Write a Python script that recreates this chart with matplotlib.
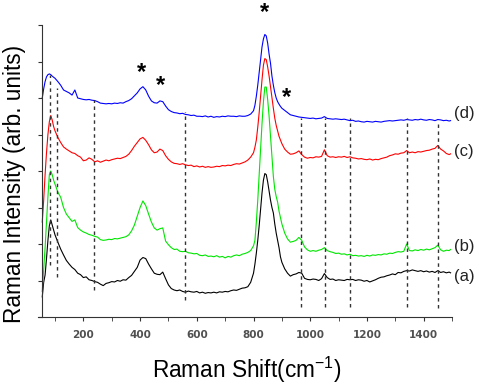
import numpy as np
import matplotlib
matplotlib.use("Agg")
import matplotlib.pyplot as plt

plt.rcParams['font.family'] = ['Liberation Sans', 'DejaVu Sans']
plt.rcParams['mathtext.default'] = 'regular'

# Raman shift sampling (cm-1): dense near the laser edge and the 840 band
shift = np.concatenate([np.arange(55, 101, 5), np.arange(110, 801, 10),
                        np.arange(805, 901, 5), np.arange(910, 1491, 10), [1495]])

# (a) black
spec_a = [0.55, 0.95, 1.15, 1.60, 2.10, 2.50, 2.66, 2.52, 2.38, 2.25,
          2.05, 1.86, 1.70, 1.55, 1.45, 1.36, 1.30, 1.20, 1.16, 1.08,
          1.10, 1.02, 1.00, 0.97, 0.95, 0.90, 0.86, 0.92, 0.94, 0.97,
          0.96, 1.00, 0.98, 1.02, 1.01, 1.08, 1.14, 1.25, 1.36, 1.56,
          1.63, 1.60, 1.45, 1.32, 1.20, 1.17, 1.16, 1.23, 1.05, 0.88,
          0.78, 0.74, 0.72, 0.74, 0.70, 0.68, 0.71, 0.69, 0.68, 0.70,
          0.66, 0.68, 0.65, 0.67, 0.66, 0.68, 0.66, 0.69, 0.68, 0.70,
          0.69, 0.72, 0.74, 0.73, 0.76, 0.79, 0.80, 0.83, 0.95, 1.20,
          1.45, 1.75, 2.10, 2.50, 2.95, 3.40, 3.75, 3.93, 3.90, 3.70,
          3.45, 3.20, 3.00, 2.85, 2.55, 2.30, 2.10, 1.90, 1.65, 1.50,
          1.32, 1.20, 1.12, 1.16, 1.18, 1.22, 1.20, 1.06, 1.03, 1.02,
          1.04, 1.03, 1.00, 1.05, 1.19, 1.08, 1.03, 1.04, 1.00, 1.02,
          1.01, 1.00, 1.03, 1.02, 1.03, 1.00, 1.02, 1.01, 0.98, 1.00,
          0.96, 0.99, 1.02, 1.06, 1.09, 1.10, 1.13, 1.15, 1.18, 1.16,
          1.22, 1.21, 1.25, 1.27, 1.26, 1.29, 1.27, 1.25, 1.27, 1.24,
          1.26, 1.23, 1.25, 1.22, 1.27, 1.22, 1.24, 1.21, 1.23, 1.21]

# (b) green
spec_b = [0.70, 1.30, 1.90, 2.60, 3.30, 3.90, 4.00, 3.90, 3.75, 3.64,
          3.42, 3.28, 3.00, 2.82, 2.72, 2.62, 2.66, 2.45, 2.38, 2.33,
          2.30, 2.26, 2.24, 2.21, 2.19, 2.12, 2.10, 2.11, 2.13, 2.12,
          2.15, 2.14, 2.16, 2.18, 2.20, 2.25, 2.36, 2.52, 2.76, 3.00,
          3.18, 3.05, 2.82, 2.60, 2.44, 2.38, 2.42, 2.44, 2.08, 1.98,
          1.90, 1.85, 1.86, 1.80, 1.79, 1.80, 1.76, 1.75, 1.73, 1.74,
          1.69, 1.68, 1.70, 1.66, 1.67, 1.65, 1.68, 1.64, 1.66, 1.62,
          1.66, 1.64, 1.68, 1.70, 1.68, 1.72, 1.74, 1.77, 1.82, 1.95,
          2.10, 2.60, 3.20, 3.90, 4.60, 5.30, 5.90, 6.30, 6.30, 5.95,
          5.50, 4.95, 4.40, 3.85, 3.50, 3.30, 3.15, 2.90, 2.72, 2.55,
          2.30, 2.14, 2.05, 2.07, 2.10, 2.18, 2.10, 1.92, 1.84, 1.80,
          1.82, 1.80, 1.83, 1.85, 1.90, 1.82, 1.79, 1.77, 1.74, 1.75,
          1.72, 1.73, 1.70, 1.72, 1.68, 1.69, 1.67, 1.68, 1.66, 1.69,
          1.67, 1.70, 1.69, 1.71, 1.70, 1.73, 1.72, 1.75, 1.74, 1.77,
          1.79, 1.78, 1.80, 2.00, 1.82, 1.81, 1.84, 1.82, 1.85, 1.83,
          1.86, 1.84, 1.87, 1.90, 1.97, 1.84, 1.80, 1.83, 1.82, 1.85]

# (c) red
spec_c = [2.60, 3.20, 3.90, 4.50, 5.00, 5.35, 5.52, 5.40, 5.22, 5.10,
          4.92, 4.78, 4.66, 4.60, 4.55, 4.50, 4.48, 4.42, 4.38, 4.28,
          4.30, 4.36, 4.32, 4.25, 4.28, 4.24, 4.27, 4.30, 4.28, 4.31,
          4.33, 4.35, 4.34, 4.37, 4.40, 4.46, 4.56, 4.68, 4.78, 4.88,
          4.92, 4.84, 4.72, 4.58, 4.50, 4.52, 4.60, 4.56, 4.42, 4.32,
          4.25, 4.21, 4.20, 4.18, 4.20, 4.17, 4.15, 4.16, 4.12, 4.14,
          4.11, 4.13, 4.10, 4.12, 4.10, 4.11, 4.13, 4.12, 4.15, 4.14,
          4.16, 4.15, 4.18, 4.20, 4.19, 4.22, 4.25, 4.30, 4.38, 4.50,
          4.65, 4.85, 5.20, 5.60, 6.05, 6.50, 6.90, 7.08, 7.05, 6.85,
          6.60, 6.30, 6.00, 5.72, 5.45, 5.25, 5.10, 4.95, 4.85, 4.75,
          4.60, 4.52, 4.46, 4.47, 4.50, 4.55, 4.45, 4.38, 4.35, 4.37,
          4.36, 4.39, 4.38, 4.40, 4.58, 4.42, 4.38, 4.39, 4.37, 4.39,
          4.38, 4.40, 4.37, 4.39, 4.36, 4.35, 4.33, 4.34, 4.32, 4.31,
          4.33, 4.30, 4.32, 4.31, 4.34, 4.36, 4.38, 4.42, 4.44, 4.47,
          4.46, 4.49, 4.50, 4.56, 4.50, 4.52, 4.50, 4.53, 4.52, 4.54,
          4.56, 4.57, 4.60, 4.62, 4.70, 4.60, 4.55, 4.48, 4.45, 4.47]

# (d) blue
spec_d = [6.00, 6.25, 6.45, 6.58, 6.64, 6.66, 6.64, 6.60, 6.57, 6.54,
          6.45, 6.35, 6.22, 6.18, 6.14, 6.08, 6.22, 6.00, 5.98, 5.96,
          5.95, 5.96, 5.94, 5.93, 5.90, 5.86, 5.85, 5.84, 5.85, 5.84,
          5.86, 5.85, 5.87, 5.86, 5.90, 5.93, 5.98, 6.06, 6.14, 6.25,
          6.31, 6.22, 6.05, 5.92, 5.87, 5.86, 5.92, 5.90, 5.78, 5.68,
          5.63, 5.60, 5.59, 5.57, 5.58, 5.55, 5.54, 5.52, 5.53, 5.50,
          5.50, 5.49, 5.51, 5.48, 5.50, 5.47, 5.49, 5.48, 5.50, 5.49,
          5.51, 5.50, 5.50, 5.49, 5.51, 5.50, 5.50, 5.52, 5.56, 5.65,
          5.80, 6.05, 6.35, 6.70, 7.05, 7.40, 7.62, 7.74, 7.70, 7.50,
          7.20, 6.95, 6.60, 6.35, 6.15, 6.00, 5.90, 5.83, 5.77, 5.72,
          5.66, 5.60, 5.54, 5.52, 5.50, 5.48, 5.47, 5.46, 5.45, 5.44,
          5.45, 5.43, 5.44, 5.45, 5.49, 5.44, 5.43, 5.42, 5.43, 5.42,
          5.41, 5.42, 5.40, 5.38, 5.39, 5.36, 5.37, 5.35, 5.34, 5.36,
          5.35, 5.34, 5.36, 5.35, 5.34, 5.36, 5.37, 5.38, 5.37, 5.38,
          5.39, 5.40, 5.39, 5.41, 5.40, 5.39, 5.41, 5.40, 5.42, 5.40,
          5.39, 5.41, 5.40, 5.38, 5.41, 5.40, 5.38, 5.39, 5.37, 5.38]

series = [(spec_a, "black", "(a)", 1.10),
          (spec_b, "#00e600", "(b)", 1.93),
          (spec_c, "#ff0000", "(c)", 4.53),
          (spec_d, "#0000ff", "(d)", 5.58)]

# guide lines: position, top, bottom
guide_x = [82, 106, 239, 557, 966, 1051, 1142, 1343, 1452]
guide_top = [6.63, 6.27, 5.95, 5.62, 5.45, 5.45, 5.45, 5.45, 5.29]
guide_bot = [1.42, 1.10, 0.74, 0.47, 0.27, 0.27, 0.27, 0.27, 0.25]

# asterisks marking bands
star_x = [406, 473, 839, 917]
star_y = [6.85, 6.49, 8.50, 6.17]

fig = plt.figure(figsize=(4.79, 3.88), dpi=100)
ax = fig.add_axes([38/479, 71/388, 414/479, 292/388])

for spec, color, label, ly in series:
    assert len(spec) == len(shift)
    ax.plot(shift, spec, color=color, lw=0.8)
    ax.text(1508, ly, label, fontsize=12, color="#222222", va="center",
            ha="left", clip_on=False)

ax.vlines(guide_x, guide_bot, guide_top, colors="#333333", lw=1.0,
          linestyles=(0, (2.5, 2.5)))

# the asterisk glyph sits high in its box, so anchor a bit lower
for sx, sy in zip(star_x, star_y):
    ax.text(sx, sy - 0.16, "*", fontsize=17, fontweight="bold", ha="center",
            va="center", clip_on=False)

ax.set_xlim(40, 1500)
ax.set_ylim(0, 8)
ax.set_xticks(np.arange(200, 1401, 200))
ax.set_xticks(np.arange(100, 1501, 100), minor=True)
ax.set_yticks(np.arange(0, 9, 1))
ax.set_yticklabels([])
ax.spines["top"].set_visible(False)
ax.spines["right"].set_visible(False)
ax.spines["left"].set_position(("data", 55))
for s in ("left", "bottom"):
    ax.spines[s].set_color("#333333")
ax.tick_params(axis="x", which="both", direction="out", length=3,
               color="#333333", labelsize=7.5, labelcolor="#505050", pad=6)
ax.tick_params(axis="y", direction="out", length=3, color="#333333")
for t in ax.get_xticklabels():
    t.set_fontweight("bold")
    t.set_fontfamily("DejaVu Sans")

fig.text(247/479, 1 - 370/388, "Raman Shift(cm$^{-1}$)", fontsize=16.3,
         ha="center", va="center")
fig.text(15/479, 1 - 184/388, "Raman Intensity (arb. units)", fontsize=16.3,
         ha="center", va="center", rotation=90)

fig.savefig("out.png", dpi=100)
